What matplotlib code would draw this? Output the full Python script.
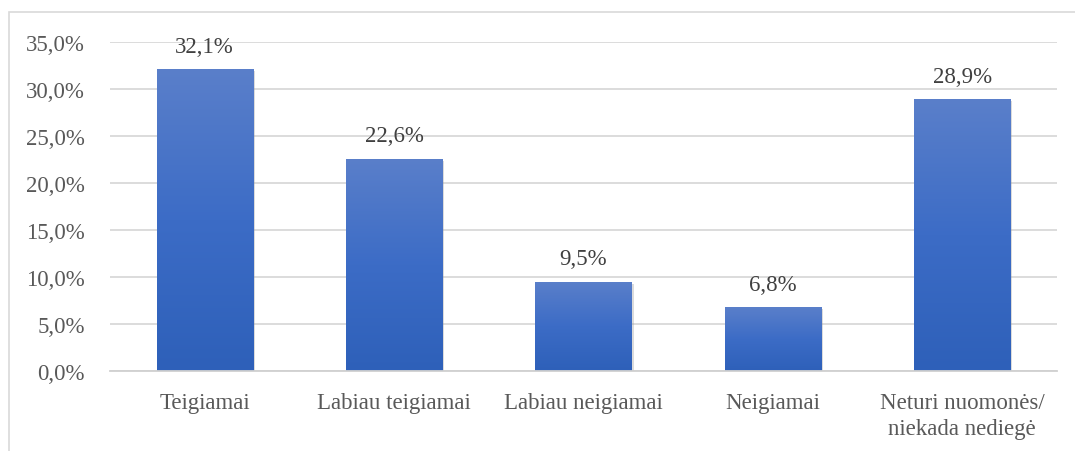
import matplotlib
matplotlib.use("Agg")
import matplotlib.pyplot as plt
import numpy as np
from matplotlib.patches import Rectangle
from matplotlib.colors import LinearSegmentedColormap
import matplotlib.patheffects as pe

categories = ["Teigiamai", "Labiau teigiamai", "Labiau neigiamai", "Neigiamai",
              "Neturi nuomonės/\nniekada nediegė"]
values = [32.1, 22.6, 9.5, 6.8, 28.9]
yticks = [0, 5, 10, 15, 20, 25, 30, 35]

plt.rcParams['font.family'] = ['Liberation Serif', 'DejaVu Serif']
TXT = '#595959'
FS = 16.5

fig = plt.figure(figsize=(10.75, 4.52), dpi=100)
ax = fig.add_axes([110/1075, 1-372/452, (1057-110)/1075, (372-43)/452])

x = np.arange(len(categories))
bars = ax.bar(x, values, width=0.507, color='#2F62BA', zorder=3,
              path_effects=[pe.SimplePatchShadow(offset=(1.5, -1.5), shadow_rgbFace='#999999', alpha=0.35), pe.Normal()])

cmap = LinearSegmentedColormap.from_list('g', ['#2E60B9', '#3C6CC6', '#5A7FCA'])
grad = np.linspace(0, 1, 256).reshape(-1, 1)
for b in bars:
    x0, y0 = b.get_x(), b.get_y()
    w, h = b.get_width(), b.get_height()
    im = ax.imshow(grad, extent=[x0, x0 + w, y0, y0 + h], origin='lower',
                   cmap=cmap, aspect='auto', zorder=3.5)
    im.set_clip_path(b)

for xi, v in zip(x, values):
    ax.annotate(f"{v:.1f}%".replace('.', ','), (xi, v), xytext=(0, 9),
                textcoords='offset points', ha='center', va='bottom',
                fontsize=FS, color='#404040')

ax.set_xlim(-0.5, len(categories) - 0.5)
ax.set_ylim(0, 35)
ax.set_yticks(yticks)
ax.set_yticklabels([f"{t:.1f}%".replace('.', ',') for t in yticks])
ax.set_xticks(x)
ax.set_xticklabels(categories, linespacing=1.3)
ax.tick_params(axis='both', length=0, labelsize=FS, colors=TXT)
ax.tick_params(axis='y', pad=18)
ax.tick_params(axis='x', pad=15)
ax.yaxis.grid(True, color='#D9D9D9', linewidth=1.3, zorder=0)
ax.set_axisbelow(True)
for s in ['top', 'right', 'left']:
    ax.spines[s].set_visible(False)
ax.spines['bottom'].set_color('#D0D0D0')
ax.spines['bottom'].set_linewidth(1.3)
ax.spines['bottom'].set_zorder(4)

fig.patches.append(Rectangle((9/1075, -0.2), 1.2, 1 - 13/452 + 0.2,
                             transform=fig.transFigure, fill=False,
                             edgecolor='#D9D9D9', linewidth=1.2))

fig.savefig('out.png', dpi=100)
